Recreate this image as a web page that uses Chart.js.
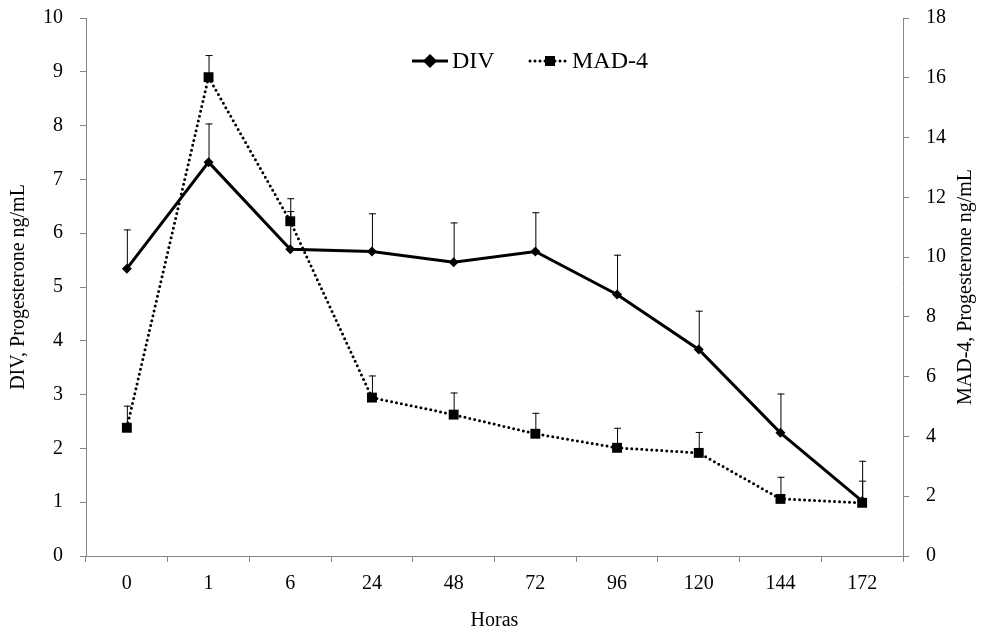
<!DOCTYPE html>
<html>
<head>
<meta charset="utf-8">
<script src="https://cdn.jsdelivr.net/npm/chart.js@4"></script>
<style>
  html, body { margin: 0; padding: 0; background: #fff; }
  #wrap { width: 984px; height: 633px; }
</style>
</head>
<body>
<div id="wrap"><canvas id="chart" width="984" height="633"></canvas></div>
<script>
// data
const horas = ['0', '1', '6', '24', '48', '72', '96', '120', '144', '172'];
const divValues = [5.34, 7.32, 5.70, 5.66, 5.46, 5.66, 4.86, 3.84, 2.29, 1.02];
const divErrors = [0.73, 0.72, 0.95, 0.71, 0.74, 0.73, 0.74, 0.72, 0.73, 0.75];
const madValues = [4.29, 16.02, 11.20, 5.30, 4.73, 4.09, 3.62, 3.45, 1.91, 1.78];
const madErrors = [0.74, 0.74, 0.34, 0.74, 0.74, 0.70, 0.67, 0.70, 0.74, 0.74];
const leftTicks = [0, 10, 1];   // min, max, step
const rightTicks = [0, 18, 2];

const FONT = 'Liberation Serif';
const AXIS_GREY = '#868686';

// upward error bars, drawn from the scales
const errorBars = {
  id: 'errorBars',
  afterDatasetsDraw(chart) {
    const ctx = chart.ctx;
    chart.data.datasets.forEach((ds, di) => {
      const meta = chart.getDatasetMeta(di);
      const yScale = chart.scales[ds.yAxisID];
      ctx.save();
      ctx.strokeStyle = '#000';
      ctx.lineWidth = 1;
      meta.data.forEach((pt, i) => {
        const top = yScale.getPixelForValue(ds.data[i] + ds.errors[i]);
        ctx.beginPath();
        ctx.moveTo(pt.x + 0.5, pt.y);
        ctx.lineTo(pt.x + 0.5, top);
        ctx.moveTo(pt.x - 3, top + 0.5);
        ctx.lineTo(pt.x + 4, top + 0.5);
        ctx.stroke();
      });
      ctx.restore();
    });
  }
};

// legend in excel style + right axis title reading upward
const extras = {
  id: 'extras',
  afterDraw(chart) {
    const ctx = chart.ctx;
    const y = 61;
    ctx.save();
    ctx.strokeStyle = '#000';
    ctx.fillStyle = '#000';

    ctx.lineWidth = 3;
    ctx.beginPath();
    ctx.moveTo(412, y);
    ctx.lineTo(448, y);
    ctx.stroke();
    Chart.helpers.drawPoint(ctx, { pointStyle: 'rectRot', radius: 5, borderWidth: 1 }, 430, y);
    ctx.fill();

    ctx.lineWidth = 3;
    ctx.lineCap = 'round';
    ctx.setLineDash([0, 5]);
    ctx.beginPath();
    ctx.moveTo(530, y);
    ctx.lineTo(567, y);
    ctx.stroke();
    ctx.setLineDash([]);
    ctx.fillRect(545, y - 5, 10, 10);

    ctx.font = '24px "' + FONT + '"';
    ctx.textBaseline = 'middle';
    ctx.textAlign = 'left';
    ctx.fillText('DIV', 452, y + 1);
    ctx.fillText('MAD-4', 572, y + 1);

    const area = chart.chartArea;
    ctx.translate(966, (area.top + area.bottom) / 2);
    ctx.rotate(-Math.PI / 2);
    ctx.textAlign = 'center';
    ctx.font = '20px "' + FONT + '"';
    ctx.fillText('MAD-4, Progesterone ng/mL', 0, 0);
    ctx.restore();
  }
};

const tickFont = { family: FONT, size: 20 };

// fixed axis sizes so the plot area sits where it does in the picture
function fixY(width) {
  return (s) => {
    s.width = width;
    s.paddingTop = 0;
    s.paddingBottom = 0;
  };
}

new Chart(document.getElementById('chart'), {
  type: 'line',
  data: {
    labels: horas,
    datasets: [
      {
        label: 'MAD-4',
        data: madValues,
        errors: madErrors,
        yAxisID: 'y1',
        borderColor: '#000',
        backgroundColor: '#000',
        borderWidth: 3,
        borderDash: [0, 5],
        borderCapStyle: 'round',
        pointStyle: 'rect',
        pointRadius: 7,
        pointBorderWidth: 0,
        tension: 0
      },
      {
        label: 'DIV',
        data: divValues,
        errors: divErrors,
        yAxisID: 'y',
        borderColor: '#000',
        backgroundColor: '#000',
        borderWidth: 3,
        pointStyle: 'rectRot',
        pointRadius: 5,
        pointBorderWidth: 0,
        tension: 0
      }
    ]
  },
  options: {
    responsive: false,
    animation: false,
    layout: { padding: { top: 18, left: 0, right: 0, bottom: 0 } },
    plugins: {
      legend: { display: false },
      tooltip: { enabled: false }
    },
    scales: {
      x: {
        offset: true,
        grid: { offset: true, drawOnChartArea: false, tickLength: 6, color: AXIS_GREY },
        border: { color: AXIS_GREY },
        ticks: { color: '#000', font: tickFont, padding: 10, maxRotation: 0 },
        title: { display: true, text: 'Horas', color: '#000', font: tickFont, padding: { top: 0, bottom: 0 } },
        afterFit: (s) => { s.height = 77; }
      },
      y: {
        position: 'left',
        min: leftTicks[0],
        max: leftTicks[1],
        grid: { drawOnChartArea: false, tickLength: 6, color: AXIS_GREY },
        border: { color: AXIS_GREY },
        ticks: { stepSize: leftTicks[2], color: '#000', font: tickFont, padding: 17 },
        title: { display: true, text: 'DIV, Progesterone ng/mL', color: '#000', font: tickFont, padding: { top: 7, bottom: 0 } },
        afterFit: fixY(86)
      },
      y1: {
        position: 'right',
        min: rightTicks[0],
        max: rightTicks[1],
        grid: { drawOnChartArea: false, tickLength: 6, color: AXIS_GREY },
        border: { color: AXIS_GREY },
        ticks: { stepSize: rightTicks[2], color: '#000', font: tickFont, padding: 17 },
        afterFit: fixY(81)
      }
    }
  },
  plugins: [errorBars, extras]
});
</script>
</body>
</html>
